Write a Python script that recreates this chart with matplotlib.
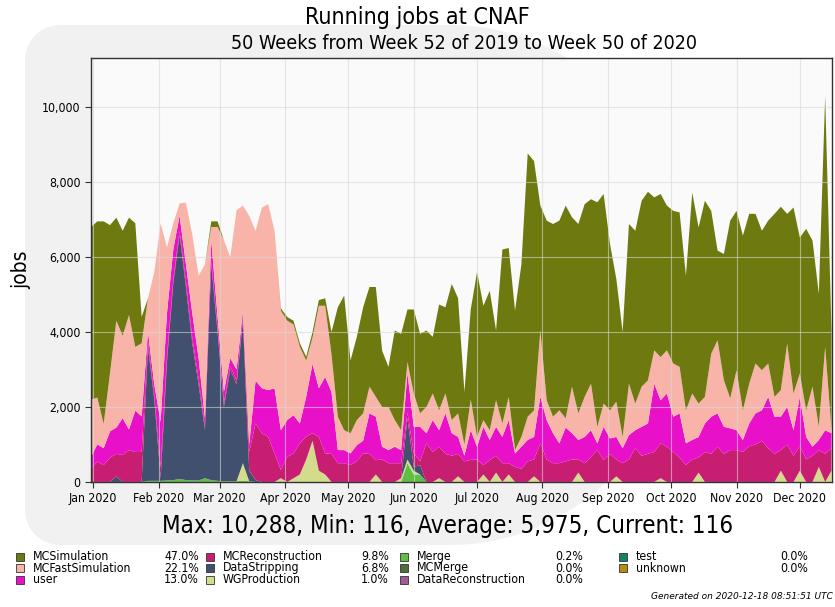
import matplotlib
matplotlib.use("Agg")
import matplotlib.pyplot as plt
from matplotlib.patches import Rectangle, Polygon
from matplotlib.ticker import FuncFormatter, MultipleLocator
import numpy as np
import datetime as dt

# ---------------- data (running jobs, 3-day samples from 2019-12-31) ----------------
start = dt.datetime(2019, 12, 31)
step_days = 3

mc_simulation = [4600, 4700, 5400, 3950, 2750, 2800, 2600, 3300, 700, 0,
                 0, 0, 0, 0, 0, 0, 0, 0, 0, 150,
                 150, 0, 0, 0, 0, 0, 0, 0, 0, 0,
                 60, 100, 100, 100, 100, 150, 150, 200, 600, 2920,
                 3590, 1940, 2220, 2830, 2660, 2930, 1500, 1070, 2390, 2570,
                 1400, 2240, 2120, 2040, 1510, 2820, 2300, 3630, 3070, 1400,
                 2400, 4400, 3050, 3720, 1860, 4640, 3970, 3720, 4600, 7020,
                 6650, 3330, 4790, 5140, 5060, 5670, 4520, 5050, 5140, 4920,
                 5990, 5590, 4440, 3280, 2800, 4260, 4610, 4960, 5030, 4080,
                 4350, 3860, 4070, 4120, 3590, 5360, 4700, 5230, 3810, 2390,
                 3370, 4740, 4250, 4660, 4530, 3990, 3720, 3810, 4880, 4890,
                 3460, 4960, 3630, 4840, 3900, 3550, 6690, 2660]
mc_fast_simulation = [1530, 1250, 650, 1550, 2850, 2200, 3050, 1700, 1950, 900,
                      3000, 5300, 1750, 700, 330, 1650, 2100, 2200, 4100, 350,
                      2400, 4050, 2700, 4250, 2820, 6100, 4000, 4820, 4960, 4200,
                      3190, 2650, 2420, 2040, 970, 700, 2200, 1900, 1000, 890,
                      530, 540, 670, 730, 710, 530, 1060, 1150, 710, 530,
                      300, 890, 360, 700, 710, 530, 530, 350, 630, 300,
                      820, 260, 180, 260, 710, 360, 620, 90, 260, 620,
                      710, 1770, 530, 440, 880, 250, 1240, 710, 1070, 1240,
                      440, 620, 750, 940, 300, 1370, 710, 1070, 1150, 890,
                      1150, 1150, 1420, 1240, 880, 1240, 890, 710, 1680, 1950,
                      1240, 800, 1600, 790, 1060, 1330, 1070, 890, 530, 710,
                      1690, 980, 620, 710, 1600, 350, 2220, 80]
user = [310, 460, 450, 700, 700, 980, 550, 1100, 950, 250,
        300, 1200, 1150, 800, 400, 450, 650, 550, 200, 550,
        300, 300, 200, 300, 150, 200, 1140, 1200, 1250, 1740,
        1060, 980, 1020, 530, 1060, 1850, 1300, 2040, 1650, 350,
        350, 310, 430, 340, 1080, 1160, 340, 350, 440, 350,
        1050, 710, 920, 270, 850, 440, 1080, 600, 450, 150,
        790, 340, 1020, 540, 770, 700, 1150, 360, 590, 570,
        600, 1240, 1050, 800, 530, 900, 700, 520, 700, 710,
        180, 880, 410, 600, 400, 650, 480, 770, 810, 1820,
        1150, 1420, 940, 1180, 580, 520, 550, 760, 990, 890,
        720, 580, 530, 320, 610, 830, 810, 1370, 990, 890,
        1000, 680, 1320, 600, 240, 270, 630, 400]
mc_reconstruction = [360, 540, 450, 650, 600, 720, 850, 800, 800, 150,
                     100, 300, 150, 100, 100, 150, 150, 150, 100, 100,
                     100, 100, 100, 100, 100, 500, 1510, 1300, 1200, 760,
                     220, 670, 660, 830, 610, 200, 900, 560, 750, 500,
                     500, 450, 550, 760, 750, 380, 600, 500, 500, 400,
                     150, 360, 100, 1030, 800, 840, 750, 700, 600, 550,
                     590, 600, 250, 580, 450, 500, 300, 400, 350, 550,
                     450, 1030, 600, 500, 500, 550, 600, 350, 500, 670,
                     850, 590, 750, 450, 500, 600, 900, 700, 750, 800,
                     930, 940, 800, 650, 450, 600, 400, 800, 750, 940,
                     750, 850, 850, 800, 950, 1000, 1100, 900, 750, 550,
                     1000, 700, 650, 600, 700, 450, 750, 600]
data_stripping = [0, 0, 0, 0, 150, 0, 0, 0, 0, 3570,
                  2170, 70, 3160, 5250, 6520, 5150, 3660, 2560, 1300, 5750,
                  3970, 1980, 2980, 2580, 3800, 280, 50, 0, 0, 0,
                  0, 0, 0, 0, 0, 0, 0, 0, 0, 0,
                  0, 0, 0, 0, 0, 0, 0, 0, 0, 0,
                  1100, 100, 250, 0, 0, 0, 0, 0, 0, 0,
                  0, 0, 0, 0, 0, 0, 0, 0, 0, 0,
                  0, 0, 0, 0, 0, 0, 0, 0, 0, 0,
                  0, 0, 0, 0, 0, 0, 0, 0, 0, 0,
                  0, 0, 0, 0, 0, 0, 0, 0, 0, 0,
                  0, 0, 0, 0, 0, 0, 0, 0, 0, 0,
                  0, 0, 0, 0, 0, 0, 0, 0]
wg_production = [0, 0, 0, 0, 0, 0, 0, 0, 0, 0,
                 0, 0, 0, 0, 0, 0, 0, 0, 0, 0,
                 0, 0, 0, 0, 470, 0, 0, 0, 0, 0,
                 100, 0, 100, 200, 600, 1100, 300, 200, 0, 0,
                 0, 0, 0, 0, 0, 200, 0, 0, 0, 100,
                 100, 100, 0, 0, 0, 100, 0, 0, 150, 0,
                 0, 0, 200, 0, 250, 0, 200, 0, 0, 0,
                 150, 0, 0, 0, 0, 0, 0, 250, 0, 0,
                 0, 0, 0, 150, 0, 0, 0, 0, 0, 0,
                 100, 0, 0, 0, 0, 0, 250, 0, 0, 0,
                 0, 0, 0, 0, 0, 0, 0, 0, 0, 300,
                 0, 0, 300, 0, 0, 400, 0, 300]
merge = [0, 0, 0, 0, 0, 0, 0, 0, 0, 30,
         30, 30, 40, 50, 80, 50, 40, 40, 100, 50,
         30, 20, 20, 20, 30, 20, 0, 0, 0, 0,
         0, 0, 0, 0, 0, 0, 0, 0, 0, 0,
         0, 0, 0, 0, 0, 0, 0, 0, 0, 0,
         500, 200, 200, 0, 0, 0, 0, 0, 0, 0,
         0, 0, 0, 0, 0, 0, 0, 0, 0, 0,
         0, 0, 0, 0, 0, 0, 0, 0, 0, 0,
         0, 0, 0, 0, 0, 0, 0, 0, 0, 0,
         0, 0, 0, 0, 0, 0, 0, 0, 0, 0,
         0, 0, 0, 0, 0, 0, 0, 0, 0, 0,
         0, 0, 0, 0, 0, 0, 0, 0]
zeros = [0] * len(mc_simulation)
mc_merge = zeros
data_reconstruction = zeros
test = zeros
unknown = zeros

legend_names = ["MCSimulation", "MCFastSimulation", "user",
                "MCReconstruction", "DataStripping", "WGProduction",
                "Merge", "MCMerge", "DataReconstruction",
                "test", "unknown"]
legend_pcts = ["47.0%", "22.1%", "13.0%", "9.8%", "6.8%", "1.0%",
               "0.2%", "0.0%", "0.0%", "0.0%", "0.0%"]

month_labels = ["Jan 2020", "Feb 2020", "Mar 2020", "Apr 2020", "May 2020", "Jun 2020",
                "Jul 2020", "Aug 2020", "Sep 2020", "Oct 2020", "Nov 2020", "Dec 2020"]

title = "Running jobs at CNAF"
subtitle = "50 Weeks from Week 52 of 2019 to Week 50 of 2020"
stats = "Max: 10,288, Min: 116, Average: 5,975, Current: 116"
generated = "Generated on 2020-12-18 08:51:51 UTC"

# ---------------- styling ----------------
colors = {
    "MCSimulation": "#6e7a0f",
    "MCFastSimulation": "#f9b4aa",
    "user": "#e810c8",
    "MCReconstruction": "#c81e72",
    "DataStripping": "#40506e",
    "WGProduction": "#d3dc8a",
    "Merge": "#5fbf44",
    "MCMerge": "#506e3c",
    "DataReconstruction": "#a05a96",
    "test": "#148264",
    "unknown": "#b48c14",
}

plt.rcParams["font.family"] = ["DejaVu Sans"]
COND = "condensed"
W, H = 835.0, 607.0

dates = [start + dt.timedelta(days=step_days * i) for i in range(len(mc_simulation))]

fig = plt.figure(figsize=(8.35, 6.07), dpi=100)
fig.patch.set_facecolor("white")

# faint background watermark shape (big rounded "D")
t_arc = np.linspace(-np.pi / 2, np.pi / 2, 60)
arc_x = 450 + 240 * np.cos(t_arc)
arc_y = 285 + 260 * np.sin(t_arc)
t_c1 = np.linspace(np.pi, 1.5 * np.pi, 12)
t_c2 = np.linspace(0.5 * np.pi, np.pi, 12)
c1_x = 60 + 35 * np.cos(t_c1)
c1_y = 60 + 35 * np.sin(t_c1)
c2_x = 60 + 35 * np.cos(t_c2)
c2_y = 510 + 35 * np.sin(t_c2)
px = np.concatenate([c1_x[::-1][::-1], arc_x, c2_x[::-1][::-1]])
py = np.concatenate([c1_y, arc_y, c2_y])
# order: top-left corner -> arc (top to bottom) -> bottom-left corner
px = np.concatenate([c1_x, arc_x, c2_x])
py = np.concatenate([c1_y, arc_y, c2_y])
wm = Polygon(np.column_stack([px / W, 1 - py / H]), closed=True,
             transform=fig.transFigure, facecolor="#f1f1f1", edgecolor="none", zorder=-10)
fig.patches.append(wm)

ax = fig.add_axes([0.109, 0.206, 0.887, 0.698])
ax.set_facecolor("#fafafa")

# stacking order: smallest contribution at bottom
stack_order = [("test", test), ("unknown", unknown),
               ("DataReconstruction", data_reconstruction), ("MCMerge", mc_merge),
               ("Merge", merge), ("WGProduction", wg_production),
               ("DataStripping", data_stripping), ("MCReconstruction", mc_reconstruction),
               ("user", user), ("MCFastSimulation", mc_fast_simulation),
               ("MCSimulation", mc_simulation)]
ax.stackplot(dates, *[np.array(v) for _, v in stack_order],
             colors=[colors[n] for n, _ in stack_order], linewidth=0)

ax.set_xlim(dt.datetime(2019, 12, 31), dt.datetime(2020, 12, 16, 2))
ax.set_ylim(0, 11300)
ax.yaxis.set_major_locator(MultipleLocator(2000))
ax.yaxis.set_major_formatter(FuncFormatter(lambda v, p: f"{int(v):,}"))
month_ticks = [dt.datetime(2020, m, 1) for m in range(1, 13)]
ax.set_xticks(month_ticks)
ax.set_xticklabels(month_labels)
ax.tick_params(axis="both", labelsize=8.8, length=4, color="#333333")
for lab in ax.get_xticklabels() + ax.get_yticklabels():
    lab.set_fontstretch(COND)
ax.grid(True, color="#d8d8d8", linewidth=0.8, alpha=0.6)
for s in ax.spines.values():
    s.set_color("#333333")
    s.set_linewidth(1.0)
ax.set_ylabel("jobs", fontsize=15, labelpad=8, fontstretch=COND)

fig.text(0.500, 0.971, title, ha="center", va="center", fontsize=16.7, fontstretch=COND)
fig.text(0.556, 0.928, subtitle, ha="center", va="center", fontsize=14.1, fontstretch=COND)
fig.text(0.536, 0.134, stats, ha="center", va="center", fontsize=17.3, fontstretch=COND)
fig.text(0.998, 0.010, generated, ha="right", va="bottom", fontsize=6.5, style="italic")

# manual legend (4 columns)
col_sq_x = [20, 210, 404, 623]
col_pct_right = [199, 389, 583, 808]
row_y = [556.5, 568, 579.5]
for k, name in enumerate(legend_names):
    c, r = divmod(k, 3)
    x0, y0 = col_sq_x[c], row_y[r]
    fig.patches.append(Rectangle(((x0 - 4) / W, 1 - (y0 + 4) / H), 8 / W, 8 / H,
                                 transform=fig.transFigure, facecolor=colors[name],
                                 edgecolor="#333333", linewidth=0.6))
    fig.text((x0 + 13) / W, 1 - y0 / H, name, ha="left", va="center", fontsize=8.8,
             fontstretch=COND)
    fig.text(col_pct_right[c] / W, 1 - y0 / H, legend_pcts[k], ha="right", va="center",
             fontsize=8.8, fontstretch=COND)

fig.savefig("out.png", dpi=100)
